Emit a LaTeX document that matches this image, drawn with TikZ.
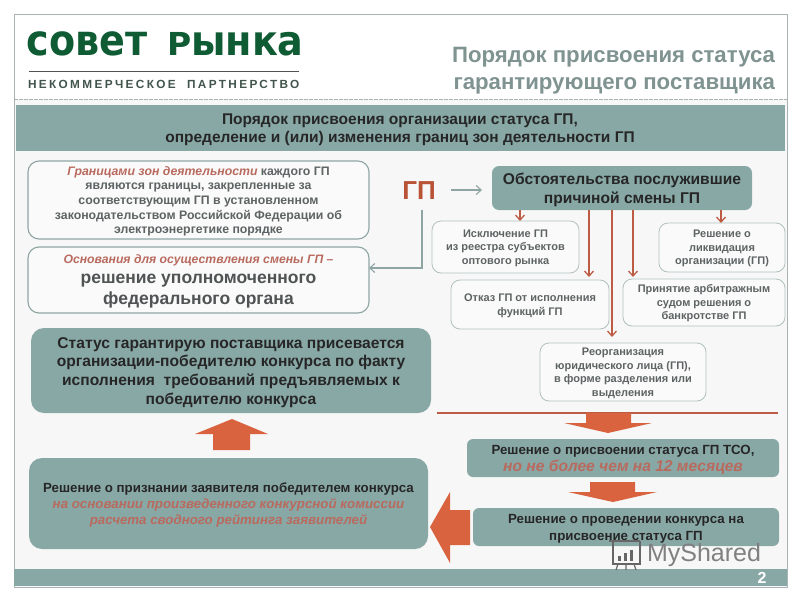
\documentclass[tikz,border=0pt]{standalone}
\usepackage{graphicx}
\usepackage{fontspec}
\setmainfont{Liberation Sans}
\newfontfamily\logofont{DejaVu Sans}
\newfontfamily\logosub[LetterSpace=20]{Liberation Sans}
\usetikzlibrary{arrows.meta}
\definecolor{teal}{HTML}{88A8A6}
\definecolor{framec}{HTML}{A9B3B1}
\definecolor{pale}{HTML}{F7F7F7}
\definecolor{arrowred}{HTML}{D9623F}
\definecolor{thinred}{HTML}{BD5C44}
\definecolor{softred}{HTML}{B96A5E}
\definecolor{darktext}{HTML}{4F5353}
\definecolor{midtext}{HTML}{5E6363}
\definecolor{titlec}{HTML}{7F9391}
\definecolor{logogreen}{HTML}{0F5C34}
\definecolor{lineg}{HTML}{8FA5A3}
\newcommand{\fs}[2]{\fontsize{#1}{#2}\selectfont}
\newcommand{\rd}[1]{\textcolor{softred}{\textit{#1}}}
\newcommand{\dn}{\vrule height 0.93em depth 0pt width 0pt\relax}
\tikzset{
  x=1pt,y=-1pt,
  anchorbox/.style={inner sep=0pt,outer sep=0pt,align=center},
  tealbox/.style={anchorbox,fill=teal,rounded corners=9pt,text=black!85},
  linebox/.style={anchorbox,draw=lineg,line width=1.1pt,fill=white!40!pale,rounded corners=11pt},
  smallbox/.style={anchorbox,draw=lineg!70,line width=0.8pt,fill=white!40!pale,rounded corners=9pt,text=midtext,font=\fs{11}{13.5}\bfseries},
  thinarrow/.style={draw=thinred,line width=1.3pt,-{Straight Barb[length=5pt,width=9pt]}},
  grayarrow/.style={draw=lineg,line width=1.1pt,-{Straight Barb[length=5pt,width=9pt]}},
  blockarrow/.style={fill=arrowred,draw=none}
}
\begin{document}
\begin{tikzpicture}
\useasboundingbox (0,0) rectangle (800,600);
\fill[white] (0,0) rectangle (800,600);
\fill[pale] (14,99) rectangle (787,587);
\draw[framec,line width=1pt] (14,14) rectangle (787,587);
\draw[framec,line width=1pt,dash pattern=on 3.5pt off 1.5pt] (14,99.5) -- (787,99.5);
\fill[teal] (16,105) rectangle (785,151);
\fill[teal] (14,569) rectangle (787,586);
% logo
\node[anchorbox,anchor=base west,text=logogreen,font=\logofont\bfseries\fs{37}{37}] (logoa) at (27,55) {\scalebox{1.03}[1.15]{совет}};
\node[anchorbox,anchor=base west,text=logogreen,font=\logofont\bfseries\fs{36}{37}] (logob) at (167,55) {\scalebox{1.2}[1.15]{\fs{27.5}{30}Р}\scalebox{1.06}[1.15]{ынка}};
\draw[darktext,line width=0.7pt] (29,71) -- (299,71);
\node[anchorbox,anchor=base west,text=darktext!80!logogreen,font=\logosub\bfseries\fs{11.8}{12}] (logoc) at (28,88) {НЕКОММЕРЧЕСКОЕ\ \ ПАРТНЕРСТВО};
% title
\node[anchor=east,anchorbox,align=right,text=titlec,font=\bfseries\fs{22.2}{27}] (title) at (775,71) {Порядок присвоения статуса\\гарантирующего поставщика};
% header
\node[anchorbox,text=black!85,font=\bfseries\fs{15.5}{18.5}] (head) at (400,128) {\dn Порядок присвоения организации статуса ГП,\\определение и (или) изменения границ зон деятельности ГП};
% left boxes
\node[linebox,minimum width=341pt,minimum height=78pt,text=midtext,font=\bfseries\fs{12.3}{14.7}] (b1) at (198.5,200) {\dn\rd{Границами зон деятельности} каждого ГП\\являются границы, закрепленные за\\соответствующим ГП в установленном\\законодательством Российской Федерации об\\электроэнергетике порядке};
\node[linebox,minimum width=341pt,minimum height=66pt,text=darktext,font=\bfseries\fs{17.5}{20.5}] (b2) at (198.5,280) {{\fs{12.2}{14}\dn\rd{Основания для осуществления смены ГП –}}\\решение уполномоченного\\федерального органа};
\node[tealbox,minimum width=400pt,minimum height=85pt,rounded corners=13pt,font=\bfseries\fs{15.6}{18.7}] (status) at (231,370.5) {\dn Статус гарантирую поставщика присевается\\организации-победителю конкурса по факту\\исполнения\ \ требований предъявляемых к\\победителю конкурса};
\node[tealbox,minimum width=399pt,minimum height=91pt,rounded corners=13pt,font=\bfseries\fs{13.3}{16.3}] (win) at (228.5,503.5) {\dn Решение о признании заявителя победителем конкурса\\\rd{на основании произведенного конкурсной комиссии}\\\rd{расчета сводного рейтинга заявителей}};
% right
\node[anchorbox,text=arrowred!85!black,font=\bfseries\fs{26}{26}] (gp) at (419,191) {ГП};
\node[tealbox,minimum width=260pt,minimum height=44pt,rounded corners=7pt,font=\bfseries\fs{15.6}{19}] (cause) at (622,188) {\dn Обстоятельства послужившие\\причиной смены ГП};
\node[smallbox,minimum width=147pt,minimum height=52pt] (excl) at (505.5,247) {\dn Исключение ГП\\из реестра субъектов\\оптового рынка};
\node[smallbox,minimum width=126pt,minimum height=49pt] (liq) at (722,247.5) {\dn Решение о\\ликвидация\\организации (ГП)};
\node[smallbox,minimum width=158pt,minimum height=49pt] (otk) at (530,304.5) {\dn Отказ ГП от исполнения\\функций ГП};
\node[smallbox,minimum width=162pt,minimum height=47pt] (arb) at (704,302.5) {\dn Принятие арбитражным\\судом решения о\\банкротстве ГП};
\node[smallbox,minimum width=166pt,minimum height=58pt] (reorg) at (623,372) {\dn Реорганизация\\юридического лица (ГП),\\в форме разделения или\\выделения};
\node[tealbox,minimum width=312pt,minimum height=38pt,rounded corners=6pt,font=\bfseries\fs{13.3}{17}] (tso) at (623,458) {\dn Решение о присвоении статуса ГП ТСО,\\{\fs{15.6}{17}\rd{но не более чем на 12 месяцев}}};
\node[tealbox,minimum width=306pt,minimum height=38pt,rounded corners=6pt,font=\bfseries\fs{13.3}{17}] (konk) at (626,527) {\dn Решение о проведении конкурса на\\присвоение статуса ГП};
% connectors
\coordinate (xa) at (520,0);
\coordinate (xb) at (589,0);
\coordinate (xc) at (612,0);
\coordinate (xd) at (633,0);
\coordinate (xe) at (721,0);
\coordinate (gs) at (451,190);
\coordinate (gt) at (482,190);
\coordinate (gu) at (422,210);
\coordinate (gc) at (422,268);
\draw[thinarrow] (cause.south -| xa) -- (excl.north -| xa);
\draw[thinarrow] (cause.south -| xb) -- ([yshift=3pt]otk.north -| xb);
\draw[thinarrow] (cause.south -| xc) -- ([yshift=6pt]reorg.north -| xc);
\draw[thinarrow] (cause.south -| xd) -- ([yshift=2pt]arb.north -| xd);
\draw[thinarrow] (cause.south -| xe) -- (liq.north -| xe);
\draw[grayarrow] (gs) -- (gt);
\draw[grayarrow] (gu) -- (gc) -- (b2.east |- gc);
% rule and block arrows
\coordinate (rl) at (437,413);
\coordinate (rr) at (778,413);
\draw[thinred,line width=1.3pt] (rl) -- (rr);
\fill[blockarrow] (586,413) -- (631,413) -- (631,423) -- (652,423) -- (608,433) -- (564,423) -- (586,423) -- cycle;
\fill[blockarrow] (590,482) -- (635,482) -- (635,492) -- (657,492) -- (613,502) -- (568,492) -- (590,492) -- cycle;
\fill[blockarrow] (470,510) -- (470,545) -- (450,545) -- (450,563) -- (430,527) -- (450,492) -- (450,510) -- cycle;
\fill[blockarrow] (213,450) -- (250,450) -- (250,434) -- (268,434) -- (232,419) -- (195,434) -- (213,434) -- cycle;
% footer
\node[anchorbox,text=white,font=\bfseries\fs{16}{16}] (page) at (762,578) {2};
% watermark
\node[anchorbox,anchor=west,text=black!50,font=\fs{25}{25}] (mark) at (647,555) {MyShared};
\begin{scope}[black!60,line width=1.2pt]
\draw (609,541) -- (640,541);
\draw (613,541) -- (613,564) -- (640,564) -- (640,541);
\fill (618,556) rectangle (621,561);
\fill (624,553) rectangle (627,561);
\fill (630,550) rectangle (633,561);
\draw (618,564) -- (616,570) (626,564) -- (626,570) (634,564) -- (636,570);
\end{scope}
\end{tikzpicture}
\end{document}
